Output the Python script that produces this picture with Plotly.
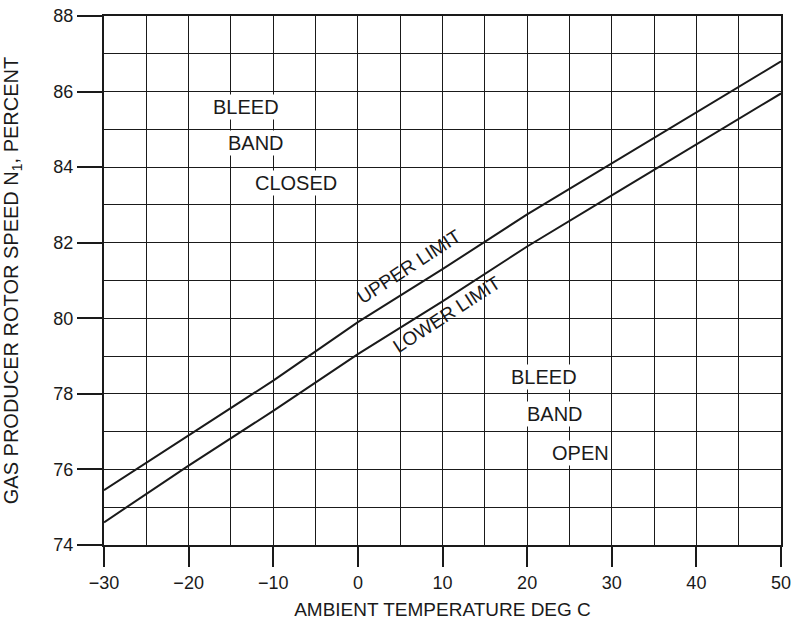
import plotly.graph_objects as go

temps = [-30, -20, -10, 0, 10, 20, 30, 40, 50]
upper_limit = [75.45, 76.9, 78.35, 79.9, 81.3, 82.75, 84.1, 85.45, 86.8]
lower_limit = [74.6, 76.1, 77.55, 79.05, 80.45, 81.9, 83.25, 84.6, 85.95]

x_ticks = [-30, -20, -10, 0, 10, 20, 30, 40, 50]
x_tick_text = ["\u221230", "\u221220", "\u221210", "0", "10", "20", "30", "40", "50"]
y_ticks = [74, 76, 78, 80, 82, 84, 86, 88]

FONT = "Liberation Sans, Arial, sans-serif"
INK = "#1a1a1a"

fig = go.Figure()
fig.add_trace(go.Scatter(x=temps, y=upper_limit, mode="lines",
                         line=dict(color=INK, width=2), name="UPPER LIMIT",
                         showlegend=False))
fig.add_trace(go.Scatter(x=temps, y=lower_limit, mode="lines",
                         line=dict(color=INK, width=2), name="LOWER LIMIT",
                         showlegend=False))

labels = [
    ("BLEED", -13.2, 85.6, 0, True),
    ("BAND", -12.0, 84.63, 0, True),
    ("CLOSED", -7.3, 83.58, 0, True),
    ("BLEED", 22.0, 78.44, 0, True),
    ("BAND", 23.3, 77.47, 0, True),
    ("OPEN", 26.3, 76.43, 0, True),
    ("UPPER LIMIT", 6.05, 81.38, -33, False),
    ("LOWER LIMIT", 10.5, 80.1, -33, False),
]
for text, x, y, ang, bg in labels:
    fig.add_annotation(x=x, y=y, text=text, showarrow=False, textangle=ang,
                       font=dict(family=FONT, size=20 if ang == 0 else 19, color=INK),
                       bgcolor="white" if bg else None, borderpad=1)

axis_common = dict(
    showline=True, mirror=True, linecolor=INK, linewidth=2,
    showgrid=True, gridcolor=INK, gridwidth=1, zeroline=False,
    ticks="outside", tickcolor=INK, tickwidth=2, automargin=False,
    tickfont=dict(family=FONT, size=18, color=INK),
)

fig.update_xaxes(range=[-30, 50], tickvals=x_ticks, ticktext=x_tick_text,
                 ticklen=20,
                 minor=dict(dtick=5, showgrid=True, gridcolor=INK, gridwidth=1, ticks=""),
                 title=dict(text="AMBIENT TEMPERATURE DEG C",
                            font=dict(family=FONT, size=19, color=INK), standoff=11),
                 **axis_common)
fig.update_yaxes(range=[74, 88], tickvals=y_ticks, ticklen=25,
                 minor=dict(dtick=1, showgrid=True, gridcolor=INK, gridwidth=1, ticks=""),
                 title=dict(text="GAS PRODUCER ROTOR SPEED N<sub>1</sub>, PERCENT",
                            font=dict(family=FONT, size=20, color=INK), standoff=30),
                 **axis_common)

fig.update_layout(
    width=794, height=632,
    margin=dict(l=104, r=13, t=16, b=87),
    paper_bgcolor="white", plot_bgcolor="white",
    font=dict(family=FONT, color=INK),
)

fig.write_html("out.html", config={"displayModeBar": False},
               post_script="document.body.style.margin='0';document.body.style.overflow='hidden';")
